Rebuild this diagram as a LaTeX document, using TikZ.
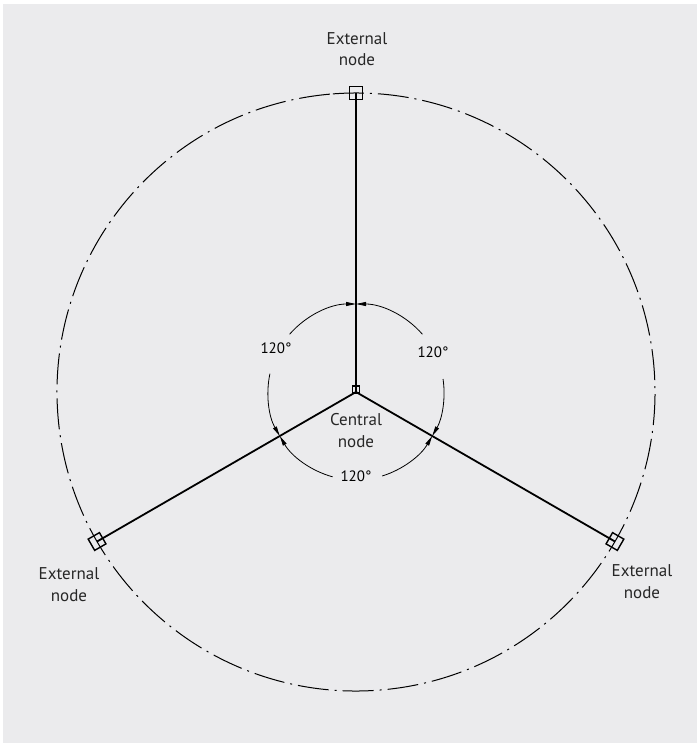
\documentclass[tikz,border=0pt]{standalone}
\usepackage{fontspec}
\setmainfont{PT Sans}
\usetikzlibrary{arrows.meta}
\definecolor{bg}{HTML}{EBEBED}
\begin{document}
\begin{tikzpicture}[x=1pt,y=1pt,
  spoke/.style={line width=1.8pt, black},
  extsq/.style={draw, line width=1.4pt, minimum size=13pt, inner sep=0pt},
  censq/.style={draw, line width=1.1pt, minimum size=7pt, inner sep=0pt},
  dashring/.style={line width=1pt, dash pattern=on 31pt off 6pt on 2pt off 6pt},
  dimarc/.style={line width=0.8pt, -{Triangle[length=10pt,width=4pt]}},
  lbl/.style={font=\fontsize{17}{21.5}\selectfont, align=center, anchor=base, inner sep=0pt, text=black!85},
  deg/.style={font=\fontsize{15}{18}\selectfont, anchor=base, inner sep=0pt}
]
\useasboundingbox (0,0) rectangle (699,-746);
\fill[bg] (3,-4) rectangle (697,-743);
\coordinate (C) at (356,-392);
\draw[dashring] ([shift={(95:299)}]C) arc[start angle=95, end angle=455, radius=299];
% squares
\node[extsq] (T) at ([shift={(90:299)}]C) {};
\node[extsq, rotate=30] (L) at ([shift={(210:299)}]C) {};
\node[extsq, rotate=-30] (R) at ([shift={(-30:299)}]C) {};
\node[censq] (M) at (356,-389.5) {};
% spokes
\draw[spoke] (C) -- (T.center);
\draw[spoke] (C) -- (L.center);
\draw[spoke] (C) -- (R.center);
% angle arcs
\draw[dimarc] ([shift={(139:88)}]C) arc[start angle=139, end angle=90, radius=88];
\draw[dimarc] ([shift={(41:88)}]C) arc[start angle=41, end angle=90, radius=88];
\draw[dimarc] ([shift={(168:88)}]C) arc[start angle=168, end angle=210, radius=88];
\draw[dimarc] ([shift={(254.6:88)}]C) arc[start angle=254.6, end angle=210, radius=88];
\draw[dimarc] ([shift={(287.4:88)}]C) arc[start angle=287.4, end angle=330, radius=88];
\draw[dimarc] ([shift={(8.5:88)}]C) arc[start angle=8.5, end angle=-30, radius=88];
% labels
\node[lbl] (tT) at (357,-66) {External\\node};
\node[lbl] (tL) at (69,-601) {External\\node};
\node[lbl] (tR) at (642,-598) {External\\node};
\node[lbl] (tC) at (356,-447) {Central\\node};
\node[deg] (a1) at (276,-353) {120°};
\node[deg] (a2) at (433,-357) {120°};
\node[deg] (a3) at (356,-481) {120°};
\end{tikzpicture}
\end{document}
